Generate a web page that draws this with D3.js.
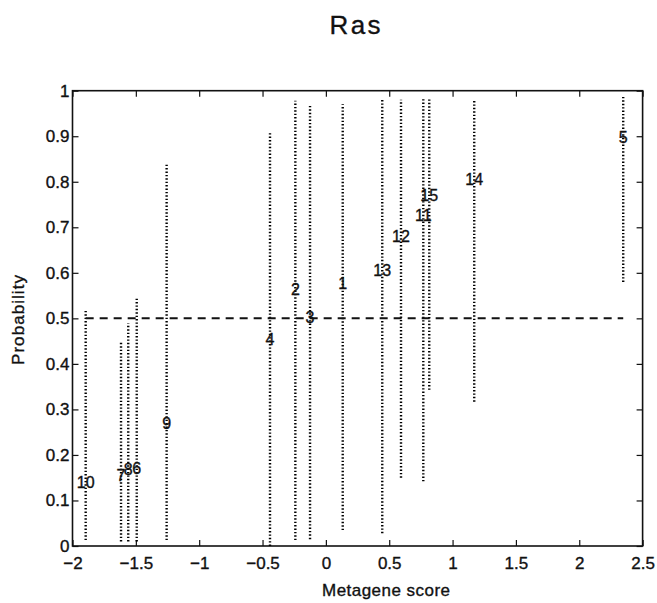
<!DOCTYPE html>
<html>
<head>
<meta charset="utf-8">
<script src="https://cdn.jsdelivr.net/npm/d3@7"></script>
<style>
  body { margin: 0; background: #fff; }
  svg { display: block; font-family: 'Liberation Sans', Arial, Helvetica, sans-serif; }
  text { stroke: #111; stroke-width: 0.35px; fill: #111; }
</style>
</head>
<body>
<script>
// sample labels and their metagene score / predicted probability
const sampleIds = ['1', '2', '3', '4', '5', '6', '7', '8', '9', '10', '11', '12', '13', '14', '15'];
const scores = [0.133, -0.241, -0.125, -0.441, 2.347, -1.493, -1.617, -1.56, -1.257, -1.896, 0.769, 0.593, 0.445, 1.171, 0.816];
const probs = [0.577, 0.564, 0.502, 0.454, 0.898, 0.171, 0.154, 0.167, 0.268, 0.14, 0.726, 0.679, 0.605, 0.806, 0.77];
// ends of the dotted probability intervals
const lowerBounds = [0.035, 0.013, 0.015, 0.0, 0.58, 0.01, 0.01, 0.01, 0.013, 0.013, 0.142, 0.15, 0.028, 0.317, 0.343];
const upperBounds = [0.97, 0.978, 0.967, 0.909, 0.989, 0.544, 0.448, 0.489, 0.84, 0.518, 0.985, 0.98, 0.982, 0.982, 0.985];

const xTicks = [-2, -1.5, -1, -0.5, 0, 0.5, 1, 1.5, 2, 2.5];
const yTicks = [0, 0.1, 0.2, 0.3, 0.4, 0.5, 0.6, 0.7, 0.8, 0.9, 1];
const threshold = 0.5;

document.addEventListener('DOMContentLoaded', function () {
  const width = 657, height = 603;
  const left = 72.5, right = 642.6, top = 90.7, bottom = 546;

  let svg = d3.select('body')
    .append('svg')
    .attr('width', width)
    .attr('height', height);

  svg.append('rect').attr('width', width).attr('height', height).attr('fill', '#fff');

  let x = d3.scaleLinear().domain([-2, 2.5]).range([left, right]);
  let y = d3.scaleLinear().domain([0, 1]).range([bottom, top]);

  //AXES - matlab style, ticks pointing inwards on all four sides
  let fmt = d3.format('');
  let styleAxis = (g) => {
    g.select('.domain').remove();
    g.selectAll('.tick line').attr('stroke', '#111').attr('stroke-width', 1.2);
    g.selectAll('.tick text').attr('fill', '#111').style('font-size', '17px');
  };

  svg.append('g')
    .attr('transform', `translate(0,${bottom})`)
    .call(d3.axisBottom(x).tickValues(xTicks).tickFormat(fmt).tickSizeInner(-6).tickSizeOuter(0).tickPadding(11))
    .call(styleAxis);
  svg.append('g')
    .attr('transform', `translate(0,${top})`)
    .call(d3.axisTop(x).tickValues(xTicks).tickFormat('').tickSizeInner(-6).tickSizeOuter(0))
    .call(styleAxis);
  svg.append('g')
    .attr('transform', `translate(${left},0)`)
    .call(d3.axisLeft(y).tickValues(yTicks).tickFormat(fmt).tickSizeInner(-6).tickSizeOuter(0).tickPadding(3))
    .call(styleAxis);
  svg.append('g')
    .attr('transform', `translate(${right},0)`)
    .call(d3.axisRight(y).tickValues(yTicks).tickFormat('').tickSizeInner(-6).tickSizeOuter(0))
    .call(styleAxis);

  svg.append('rect')
    .attr('x', left).attr('y', top)
    .attr('width', right - left).attr('height', bottom - top)
    .attr('fill', 'none').attr('stroke', '#111').attr('stroke-width', 1.6);

  //DOTTED INTERVALS
  svg.append('g')
    .selectAll('line')
    .data(sampleIds)
    .join('line')
    .attr('x1', (d, i) => x(scores[i]))
    .attr('x2', (d, i) => x(scores[i]))
    .attr('y1', (d, i) => y(lowerBounds[i]))
    .attr('y2', (d, i) => y(upperBounds[i]))
    .attr('stroke', '#000')
    .attr('stroke-width', 2.4)
    .attr('stroke-dasharray', '1.4 2');

  //0.5 CUT-OFF
  let ext = d3.extent(scores);
  svg.append('line')
    .attr('x1', x(ext[0])).attr('x2', x(ext[1]))
    .attr('y1', y(threshold)).attr('y2', y(threshold))
    .attr('stroke', '#111')
    .attr('stroke-width', 2)
    .attr('stroke-dasharray', '8 6');

  //SAMPLE NUMBERS
  svg.append('g')
    .selectAll('text')
    .data(sampleIds)
    .join('text')
    .attr('x', (d, i) => x(scores[i]))
    .attr('y', (d, i) => y(probs[i]))
    .attr('text-anchor', 'middle')
    .attr('dominant-baseline', 'central')
    .style('font-size', '16px')
    .text((d) => d);

  //TITLES
  svg.append('text')
    .attr('x', 355).attr('y', 34)
    .attr('text-anchor', 'middle')
    .style('font-size', '26px')
    .attr('textLength', 51)
    .text('Ras');
  svg.append('text')
    .attr('x', 386).attr('y', 596)
    .attr('text-anchor', 'middle')
    .style('font-size', '17px')
    .attr('textLength', 128)
    .text('Metagene score');
  svg.append('text')
    .attr('transform', 'translate(24,320) rotate(-90)')
    .attr('text-anchor', 'middle')
    .style('font-size', '17px')
    .attr('textLength', 90)
    .text('Probability');
});
</script>
</body>
</html>
